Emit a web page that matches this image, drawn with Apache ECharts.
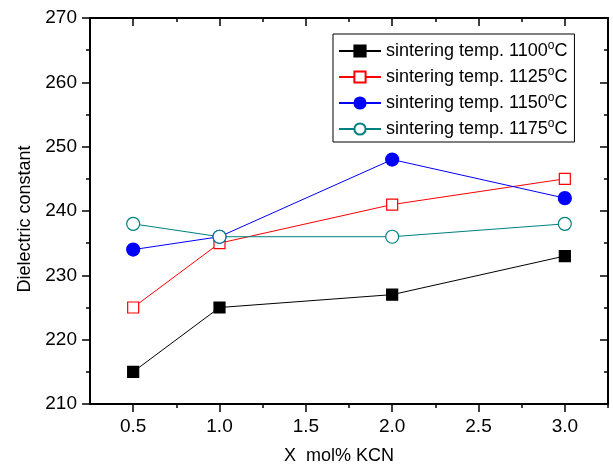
<!DOCTYPE html>
<html>
<head>
<meta charset="utf-8">
<script src="https://cdn.jsdelivr.net/npm/echarts@6/dist/echarts.min.js"></script>
<style>
html,body{margin:0;padding:0;background:#fff;}
#chart{width:613px;height:465px;}
</style>
</head>
<body>
<div id="chart"></div>
<script>
var xValues = [0.5, 1.0, 2.0, 3.0];
var temps = ['1100', '1125', '1150', '1175'];
var s1100 = [215, 225, 227, 233];
var s1125 = [225, 235, 241, 245];
var s1150 = [234, 236, 248, 242];
var s1175 = [238, 236, 236, 238];
var xMajorTicks = [0.5, 1.0, 1.5, 2.0, 2.5, 3.0];
var xMinorTicks = [0.75, 1.25, 1.75, 2.25, 2.75, 3.25];

var FONT = '"Liberation Sans", Arial, sans-serif';
function pairs(vals) { return xValues.map(function (x, i) { return [x, vals[i]]; }); }

var styles = [
  { data: s1100, symbol: 'rect', size: 11, fill: '#000000', stroke: '#000000', line: '#000000' },
  { data: s1125, symbol: 'rect', size: 11, fill: '#ffffff', stroke: '#ff0000', line: '#ff0000' },
  { data: s1150, symbol: 'circle', size: 13, fill: '#0000ff', stroke: '#0000ff', line: '#0000ff' },
  { data: s1175, symbol: 'circle', size: 13, fill: '#ffffff', stroke: '#008080', line: '#008080' }
];

var series = styles.map(function (s, i) {
  return {
    name: 'sintering temp. ' + temps[i] + '°C',
    type: 'line',
    xAxisIndex: 0,
    yAxisIndex: 0,
    data: pairs(s.data),
    symbol: s.symbol,
    symbolSize: s.size,
    showAllSymbol: true,
    lineStyle: { color: s.line, width: 1 },
    itemStyle: { color: s.fill, borderColor: s.stroke, borderWidth: 1.2 },
    emphasis: { disabled: true },
    animation: false
  };
});

var axisLine = { show: true, lineStyle: { color: '#000', width: 2 } };
var tickStyle = { color: '#000', width: 1.5 };

function xAx(pos, custom, len, inside, labels) {
  return {
    type: 'value', position: pos, min: 0.25, max: 3.25, interval: 0.25,
    axisLine: axisLine,
    axisTick: { show: true, customValues: custom, length: len, inside: inside, lineStyle: tickStyle },
    axisLabel: labels ? {
      show: true, customValues: xMajorTicks, fontSize: 19, color: '#000', fontFamily: FONT, margin: 13,
      formatter: function (v) { return Number(v).toFixed(1); }
    } : { show: false },
    splitLine: { show: false }
  };
}

var xAxes = [
  xAx('bottom', xMajorTicks, 8, false, true),
  xAx('bottom', xMinorTicks, 4, false, false),
  xAx('top', xMajorTicks, 8, true, false),
  xAx('top', xMinorTicks, 4, true, false)
];
xAxes[0].name = 'X  mol% KCN';
xAxes[0].nameLocation = 'middle';
xAxes[0].nameGap = 43;
xAxes[0].nameTextStyle = { fontSize: 18, color: '#000', fontFamily: FONT, padding: [0, 20, 0, 0] };

function yAx(pos, inside, labels) {
  return {
    type: 'value', position: pos, min: 210, max: 270, interval: 10,
    axisLine: axisLine,
    axisTick: { show: true, length: 8, inside: inside, lineStyle: tickStyle },
    minorTick: { show: true, splitNumber: 2, length: 4, lineStyle: tickStyle },
    axisLabel: labels ? { show: true, fontSize: 19, color: '#000', fontFamily: FONT, margin: 13 } : { show: false },
    splitLine: { show: false },
    minorSplitLine: { show: false }
  };
}
var yAxes = [yAx('left', false, true), yAx('right', true, false)];
yAxes[0].name = 'Dielectric constant';
yAxes[0].nameLocation = 'middle';
yAxes[0].nameGap = 55;
yAxes[0].nameTextStyle = { fontSize: 18, color: '#000', fontFamily: FONT, padding: [0, 16, 0, 0] };

var chart = echarts.init(document.getElementById('chart'), null, { renderer: 'canvas' });
chart.setOption({
  backgroundColor: '#ffffff',
  animation: false,
  grid: { left: 90, right: 5, top: 18, bottom: 61, containLabel: false, outerBoundsMode: 'none' },
  xAxis: xAxes,
  yAxis: yAxes,
  legend: {
    orient: 'vertical',
    left: 333, top: 34,
    padding: [6, 7, 2, 5],
    itemGap: 4,
    itemWidth: 42,
    itemHeight: 14,
    borderColor: '#000',
    borderWidth: 1,
    data: series.map(function (s) { return s.name; }),
    formatter: function (name) { return name.replace('°C', '{s|o}C'); },
    textStyle: {
      fontSize: 18, color: '#000', fontFamily: FONT, lineHeight: 22,
      rich: { s: { fontSize: 12, lineHeight: 6, verticalAlign: 'top', color: '#000', fontFamily: FONT } }
    }
  },
  series: series
});
</script>
</body>
</html>
